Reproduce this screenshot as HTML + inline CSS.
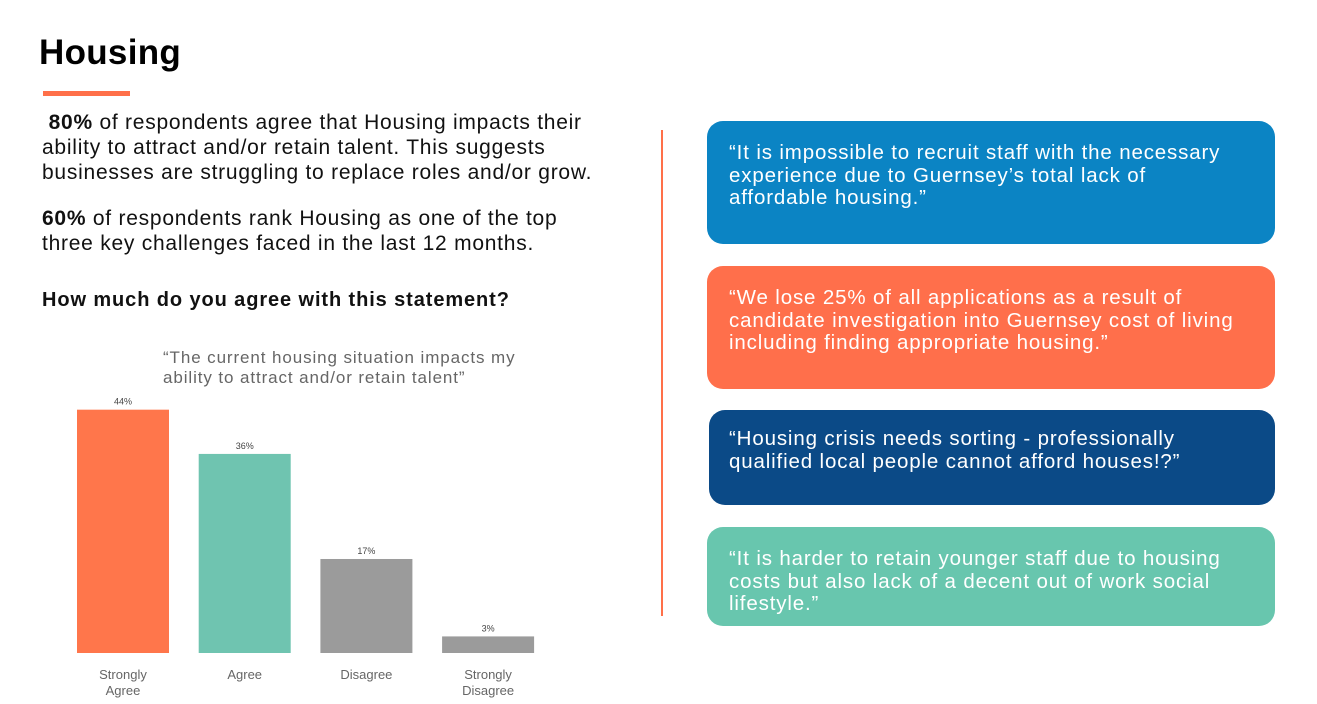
<!DOCTYPE html>
<html><head><meta charset="utf-8"><style>
body{margin:0;width:1317px;height:704px;background:#fff;font-family:"Liberation Sans",sans-serif;position:relative;overflow:hidden}
.a{position:absolute}
h1{position:absolute;left:39px;top:33px;margin:0;font-size:35px;font-weight:bold;color:#000;letter-spacing:0.3px}
.body{left:42px;font-size:21px;line-height:25px;color:#111;white-space:nowrap;letter-spacing:0.75px}
.q{position:absolute;left:707px;width:568px;border-radius:16px;color:#fff;font-size:20.5px;line-height:22.5px;box-sizing:border-box;padding:22px 22px;white-space:nowrap;letter-spacing:0.85px}
</style></head><body>
<h1>Housing</h1>
<div class="a" style="left:43px;top:91px;width:87px;height:5px;background:#ff7049"></div>
<div class="a body" style="top:110px"><b>&nbsp;80%</b> of respondents agree that Housing impacts their<br>ability to attract and/or retain talent. This suggests<br>businesses are struggling to replace roles and/or grow.</div>
<div class="a body" style="top:206px"><b>60%</b> of respondents rank Housing as one of the top<br>three key challenges faced in the last 12 months.</div>
<div class="a body" style="top:288px;font-weight:bold;font-size:20px;letter-spacing:0.9px">How much do you agree with this statement?</div>
<div class="a" style="left:163px;top:348px;font-size:17px;line-height:20px;color:#666;white-space:nowrap;letter-spacing:0.9px">“The current housing situation impacts my<br>ability to attract and/or retain talent”</div>
<svg class="a" style="left:0;top:0" width="660" height="704"><g id="g"></g></svg>
<div class="a" style="left:661px;top:130px;width:1.5px;height:486px;background:#ff7049"></div>
<div class="q" style="top:121px;height:123px;background:#0b84c4;padding-top:21px">“It is impossible to recruit staff with the necessary<br>experience due to Guernsey’s total lack of<br>affordable housing.”</div>
<div class="q" style="top:266px;height:123px;background:#ff6f4b;padding-top:21px">“We lose 25% of all applications as a result of<br>candidate investigation into Guernsey cost of living<br>including finding appropriate housing.”</div>
<div class="q" style="top:410px;left:709px;width:566px;height:95px;background:#0b4a87;padding-top:18px;padding-left:20px">“Housing crisis needs sorting - professionally<br>qualified local people cannot afford houses!?”</div>
<div class="q" style="top:527px;height:99px;background:#68c6ae;padding-top:21px">“It is harder to retain younger staff due to housing<br>costs but also lack of a decent out of work social<br>lifestyle.”</div>
<script>
const categories=[["Strongly","Agree"],["Agree"],["Disagree"],["Strongly","Disagree"]];
const values=[44,36,17,3];
const labels=["44%","36%","17%","3%"];
const colors=["#ff764b","#6fc4b0","#9b9b9b","#9b9b9b"];
const base=653,scale=5.53,x0=77,step=121.7,bw=92;
const y=v=>base-v*scale, x=i=>x0+i*step;
const g=document.getElementById('g'),NS='http://www.w3.org/2000/svg';
values.forEach((v,i)=>{
 const r=document.createElementNS(NS,'rect');
 
 
 r.setAttribute('x',x(i));r.setAttribute('y',y(v));r.setAttribute('width',bw);r.setAttribute('height',base-y(v));r.setAttribute('fill',colors[i]);g.appendChild(r);
 const t=document.createElementNS(NS,'text');
 
 
 t.setAttribute('x',x(i)+bw/2);t.setAttribute('y',y(v)-5);t.setAttribute('text-anchor','middle');t.setAttribute('font-size','9');t.setAttribute('fill','#444');t.textContent=labels[i];g.appendChild(t);
 categories[i].forEach((c,j)=>{
  const l=document.createElementNS(NS,'text');
  
  
  l.setAttribute('x',x(i)+bw/2);l.setAttribute('y',679+j*16);l.setAttribute('text-anchor','middle');l.setAttribute('font-size','13');l.setAttribute('fill','#666');l.textContent=c;g.appendChild(l);
 });
});
</script>
</body></html>
